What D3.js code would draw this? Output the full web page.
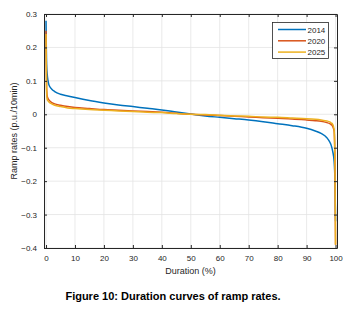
<!DOCTYPE html>
<html><head><meta charset="utf-8">
<script src="https://cdn.jsdelivr.net/npm/d3@7"></script>
<style>
html,body{margin:0;padding:0;background:#fff;}
text{font-family:"Liberation Sans",Arial,sans-serif;}
</style></head>
<body><svg id="c" width="346" height="313"></svg>
<script>
const duration = [0,0.1,0.2,0.4,0.7,1,2,3,5,7.5,10,15,20,25,30,35,40,45,50,55,60,65,70,75,80,85,90,93,95,97,98,98.5,99,99.5,99.8,100];
const r2014 = [0.28,0.2,0.15,0.12,0.10,0.088,0.075,0.068,0.060,0.055,0.050,0.041,0.034,0.028,0.023,0.018,0.013,0.007,0.001,-0.005,-0.009,-0.013,-0.017,-0.022,-0.028,-0.034,-0.042,-0.050,-0.057,-0.070,-0.083,-0.093,-0.11,-0.14,-0.2,-0.32];
const r2020 = [0.25,0.15,0.08,0.055,0.047,0.043,0.035,0.031,0.027,0.023,0.020,0.017,0.014,0.012,0.010,0.008,0.006,0.003,0.0,-0.002,-0.004,-0.006,-0.008,-0.010,-0.012,-0.014,-0.017,-0.019,-0.021,-0.025,-0.028,-0.031,-0.036,-0.05,-0.15,-0.39];
const r2025 = [0.24,0.14,0.07,0.045,0.040,0.037,0.031,0.027,0.023,0.019,0.017,0.014,0.012,0.010,0.008,0.006,0.005,0.002,0.0,-0.001,-0.003,-0.005,-0.006,-0.008,-0.009,-0.011,-0.013,-0.015,-0.017,-0.020,-0.023,-0.026,-0.030,-0.045,-0.15,-0.39];
const seriesNames = ["2014","2020","2025"];
const xTicks = [0,10,20,30,40,50,60,70,80,90,100];
const yTicks = [0.3,0.2,0.1,0,-0.1,-0.2,-0.3,-0.4];
const colors = ["#0072BD","#D95319","#EDB120"];

const svg = d3.select("#c");
const L=44, R=337, T=14, B=248;
const x = d3.scaleLinear().domain([-0.7,100.5]).range([L,R]);
const y = d3.scaleLinear().domain([-0.4,0.3]).range([B,T]);
const grey="#262626";

// grid
svg.append("g").selectAll("line").data(xTicks).join("line")
  .attr("x1",d=>x(d)).attr("x2",d=>x(d)).attr("y1",T).attr("y2",B)
  .attr("stroke","#e3e3e3").attr("stroke-width",0.8);
svg.append("g").selectAll("line").data(yTicks).join("line")
  .attr("x1",L).attr("x2",R).attr("y1",d=>y(d)).attr("y2",d=>y(d))
  .attr("stroke","#e3e3e3").attr("stroke-width",0.8);

// lines
const series=[r2014,r2020,r2025];
const line = d3.line().x((d,i)=>x(duration[i])).y(d=>y(d)).curve(d3.curveMonotoneX);
series.forEach((s,k)=>{
  svg.append("path").datum(s).attr("d",line).attr("fill","none")
    .attr("stroke",colors[k]).attr("stroke-width",1.5).attr("stroke-linejoin","round");
});

// axes
const ax = svg.append("g").attr("transform",`translate(0,${B})`)
  .call(d3.axisBottom(x).tickValues(xTicks).tickSizeInner(-3).tickSizeOuter(0).tickPadding(7).tickFormat(d3.format("d")));
const ay = svg.append("g").attr("transform",`translate(${L},0)`)
  .call(d3.axisLeft(y).tickValues(yTicks).tickSizeInner(-3).tickSizeOuter(0).tickPadding(7).tickFormat(d=>d===0?"0":d3.format(".1f")(d)));
[ax,ay].forEach(a=>{
  a.select(".domain").attr("stroke",grey).attr("stroke-width",1);
  a.selectAll(".tick line").attr("stroke",grey);
  a.selectAll("text").attr("fill",grey).style("font-size","8px");
});
// top & right axes
svg.append("g").attr("transform",`translate(0,${T})`)
  .call(d3.axisTop(x).tickValues(xTicks).tickSizeInner(-3).tickSizeOuter(0).tickFormat(""))
  .call(g=>{g.select(".domain").attr("stroke",grey);g.selectAll(".tick line").attr("stroke",grey);});
svg.append("g").attr("transform",`translate(${R},0)`)
  .call(d3.axisRight(y).tickValues(yTicks).tickSizeInner(-3).tickSizeOuter(0).tickFormat(""))
  .call(g=>{g.select(".domain").attr("stroke",grey);g.selectAll(".tick line").attr("stroke",grey);});

// labels
svg.append("text").attr("x",(L+R)/2).attr("y",274).attr("text-anchor","middle")
  .attr("fill",grey).style("font-size","9px").text("Duration (%)");
svg.append("text").attr("transform",`translate(17,${(T+B)/2}) rotate(-90)`).attr("text-anchor","middle")
  .attr("fill",grey).style("font-size","9px").text("Ramp rates (p.u./10min)");

// legend
const lg = svg.append("g");
lg.append("rect").attr("x",272.5).attr("y",22.5).attr("width",56).attr("height",36)
  .attr("fill","#fff").attr("stroke",grey).attr("stroke-width",0.8);
seriesNames.forEach((n,k)=>{
  const yy = 29.5 + k*11.3;
  lg.append("line").attr("x1",278).attr("x2",306).attr("y1",yy).attr("y2",yy)
    .attr("stroke",colors[k]).attr("stroke-width",1.5);
  lg.append("text").attr("x",307.5).attr("y",yy+3).attr("fill",grey).style("font-size","8px").text(n);
});

// caption
svg.append("text").attr("x",173).attr("y",300).attr("text-anchor","middle")
  .style("font-size","11px").style("font-weight","bold").attr("fill","#000")
  .text("Figure 10: Duration curves of ramp rates.");
</script></body></html>
